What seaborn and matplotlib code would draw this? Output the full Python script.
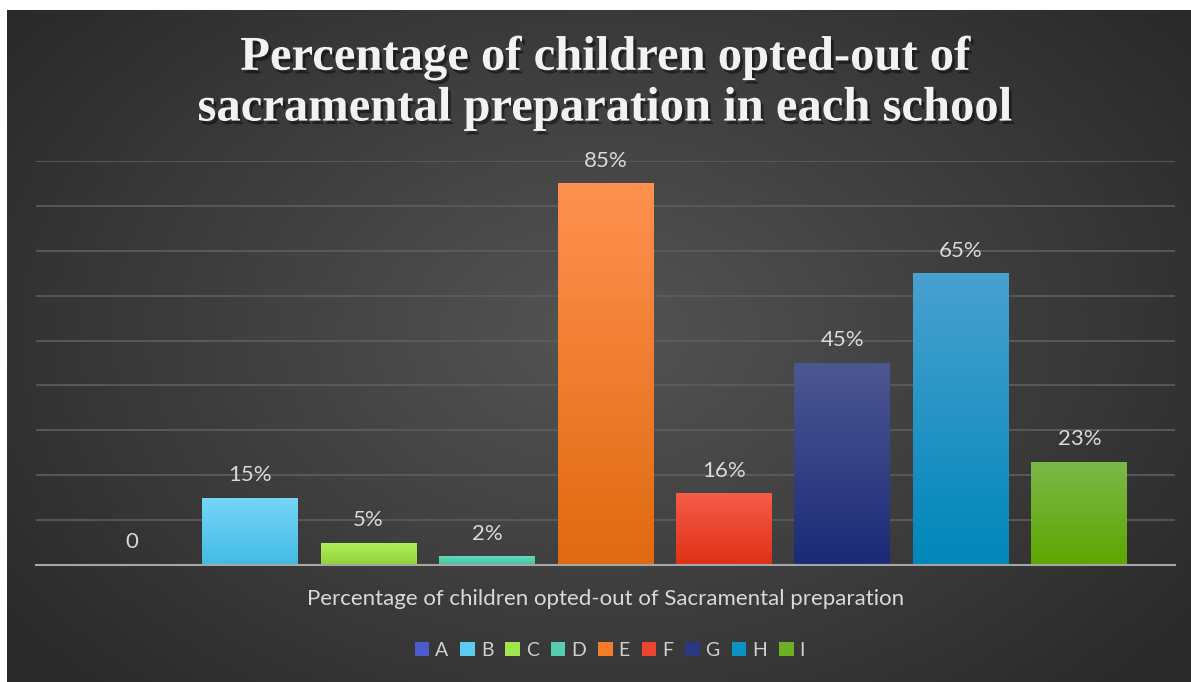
import numpy as np
import pandas as pd
import matplotlib.pyplot as plt
import matplotlib.patheffects as pe
from matplotlib.patches import Rectangle
from matplotlib.colors import LinearSegmentedColormap
import seaborn as sns

# data
schools = ["A", "B", "C", "D", "E", "F", "G", "H", "I"]
opted_out = [0.0, 0.15, 0.05, 0.02, 0.85, 0.16, 0.45, 0.65, 0.23]
value_labels = ["0", "15%", "5%", "2%", "85%", "16%", "45%", "65%", "23%"]
category = "Percentage of children opted-out of Sacramental preparation"
title = "Percentage of children opted-out of\nsacramental preparation in each school"

# gradient colours per bar (top, bottom)
top_colors = ["#5b6cd8", "#76d6f6", "#b2ef5c", "#66dabb", "#ff9150", "#f65c48", "#4c5792", "#48a1d0", "#7cb84a"]
bot_colors = ["#3a4bc0", "#43bbe4", "#8ed338", "#3fbf9f", "#e06a10", "#e03015", "#1c2b78", "#0087ba", "#5ea600"]
legend_colors = ["#4a5bcc", "#5ccbf0", "#a2e44c", "#55ceb0", "#f47c28", "#ec4530", "#2a3882", "#0a92c6", "#6cb024"]

df = pd.DataFrame({"category": [category] * len(schools), "school": schools, "value": opted_out})

sns.set_theme(style="dark")
plt.rcParams["font.family"] = ["Lato", "DejaVu Sans"]

fig = plt.figure(figsize=(11.91, 6.82), dpi=100)
fig.patch.set_facecolor("white")

# radial gradient background panel
bg = fig.add_axes([7 / 1191, 0, 1 - 7 / 1191, 1 - 10 / 682])
yy, xx = np.mgrid[0:1:300j, 0:1:500j]
r = np.sqrt(((xx - 0.5) / 0.62) ** 2 + ((yy - 0.52) / 0.75) ** 2)
bg_cmap = LinearSegmentedColormap.from_list("bg", ["#545454", "#2a2a2a"])
bg.imshow(np.clip(r, 0, 1), cmap=bg_cmap, aspect="auto", extent=[0, 1, 0, 1], origin="lower")
bg.set_axis_off()

ax = fig.add_axes([36 / 1191, 1 - 565 / 682, (1175 - 36) / 1191, 404 / 682])
ax.patch.set_alpha(0)

sns.barplot(data=df, x="category", y="value", hue="school", palette=bot_colors,
            width=0.936, gap=0.19, legend=False, linewidth=0, ax=ax)
ax.set_xlim(-0.5, 0.5)
ax.set_ylim(0, 0.9)

# gradient fill on each bar
for patch, tc, bc, lab in zip(ax.patches, top_colors, bot_colors, value_labels):
    x0, w, h = patch.get_x(), patch.get_width(), patch.get_height()
    patch.set_edgecolor("none")
    if h > 0:
        cm = LinearSegmentedColormap.from_list("g", [bc, tc])
        grad = np.linspace(0, 1, 100).reshape(-1, 1)
        im = ax.imshow(grad, cmap=cm, aspect="auto", extent=[x0, x0 + w, 0, h],
                       origin="lower", zorder=3)
        im.set_clip_path(patch)
    ax.annotate(lab, (x0 + w / 2, h), xytext=(0, 9), textcoords="offset points",
                ha="center", va="bottom", color="#d9d9d9", fontsize=16)
ax.set_xlim(-0.5, 0.5)
ax.set_ylim(0, 0.9)

ax.set_yticks(np.arange(0, 0.91, 0.1))
ax.yaxis.grid(True, color="#5e5e5e", linewidth=1.2)
ax.set_yticklabels([])
ax.tick_params(axis="y", length=0)
for s in ["top", "left", "right"]:
    ax.spines[s].set_visible(False)
ax.spines["bottom"].set_color("#a6a6a6")
ax.spines["bottom"].set_linewidth(1.5)
ax.spines["bottom"].set_zorder(4)
ax.set_xlabel("")
ax.set_ylabel("")
ax.tick_params(axis="x", which="major", length=0, pad=17, labelcolor="#d9d9d9", labelsize=16)
ax.set_xticks([-0.5, 0.5], minor=True)
ax.tick_params(axis="x", which="minor", length=6, width=1.5, color="#a6a6a6")

# legend
handles = [Rectangle((0, 0), 1, 1, facecolor=c, edgecolor="none") for c in legend_colors]
fig.legend(handles, schools, loc="center", bbox_to_anchor=(0.512, 1 - 650 / 682), ncol=9,
           frameon=False, fontsize=14, labelcolor="#d0d0d0", handlelength=0.75,
           handleheight=0.75, handletextpad=0.3, columnspacing=0.62)

# title
fig.text(0.508, 1 - 83 / 682, title, ha="center", va="center", color="#f2f2f2",
         fontsize=35, fontweight="bold", family="Liberation Serif", linespacing=1.2,
         path_effects=[pe.withSimplePatchShadow(offset=(2, -2.5), shadow_rgbFace="black", alpha=0.45)])

fig.savefig("out.png", dpi=100)
